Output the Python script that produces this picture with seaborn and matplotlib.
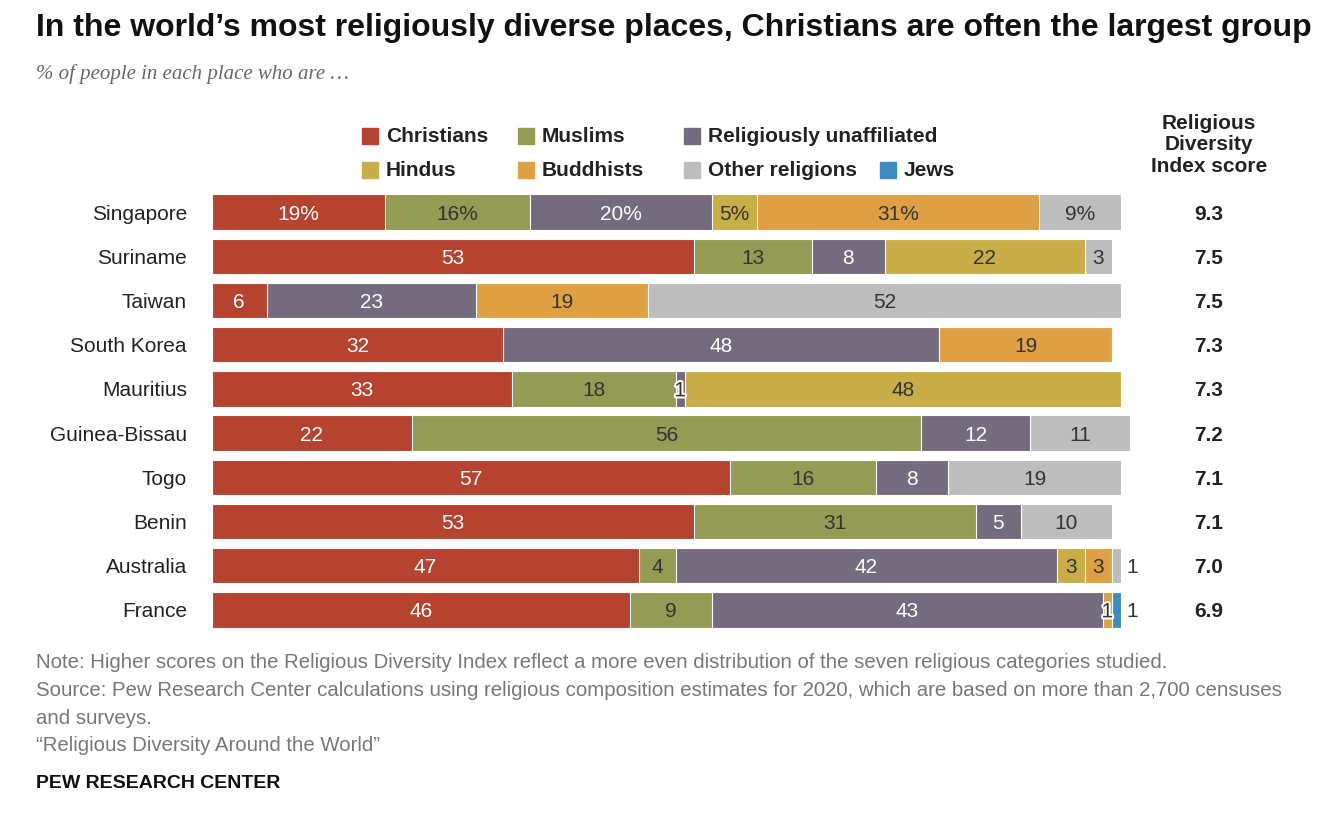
import numpy as np
import pandas as pd
import matplotlib
matplotlib.use("Agg")
import matplotlib.pyplot as plt
import matplotlib.patheffects as pe
import matplotlib.transforms as mtransforms
import seaborn as sns

sns.set_theme(style="white")
plt.rcParams['font.family'] = ['Liberation Sans Narrow', 'Liberation Sans', 'DejaVu Sans']

countries = ['Singapore', 'Suriname', 'Taiwan', 'South Korea', 'Mauritius',
             'Guinea-Bissau', 'Togo', 'Benin', 'Australia', 'France']
groups = ['Christians', 'Muslims', 'Religiously unaffiliated', 'Hindus',
          'Buddhists', 'Other religions', 'Jews']
christians = [19, 53, 6, 32, 33, 22, 57, 53, 47, 46]
muslims = [16, 13, 0, 0, 18, 56, 16, 31, 4, 9]
unaffiliated = [20, 8, 23, 48, 1, 12, 8, 5, 42, 43]
hindus = [5, 22, 0, 0, 48, 0, 0, 0, 3, 0]
buddhists = [31, 0, 19, 19, 0, 0, 0, 0, 3, 1]
other = [9, 3, 52, 0, 0, 11, 19, 10, 1, 0]
jews = [0, 0, 0, 0, 0, 0, 0, 0, 0, 1]
scores = ['9.3', '7.5', '7.5', '7.3', '7.3', '7.2', '7.1', '7.1', '7.0', '6.9']

colors = ['#B5432F', '#949B55', '#756B7E', '#C9AE48', '#DFA044', '#BDBDBD', '#3C8DBF']
text_col = ['white', '#333333', 'white', '#333333', '#333333', '#333333', 'white']

vals = np.array([christians, muslims, unaffiliated, hindus, buddhists, other, jews], dtype=float)
cum = np.cumsum(vals, axis=0)

fig = plt.figure(figsize=(13.44, 8.14), dpi=100)
ax = fig.add_axes([212 / 1344, 1 - 632 / 814, 909 * 1.02 / 1344, 442 / 814])

# stacked bars: draw cumulative totals from the top group down
for i in range(len(groups) - 1, -1, -1):
    df = pd.DataFrame({'country': countries, 'v': cum[i]})
    sns.barplot(data=df, x='v', y='country', orient='h', color=colors[i],
                width=0.8, saturation=1, ax=ax, linewidth=0.8, edgecolor='white')

ax.set_xlim(0, 102)
ax.set_ylim(9.5, -0.5)
ax.set_xlabel('')
ax.set_ylabel('')
ax.set_xticks([])
ax.tick_params(axis='y', length=0, labelsize=15, pad=18, labelcolor='#222222')
sns.despine(ax=ax, left=True, bottom=True)

score_tr = mtransforms.blended_transform_factory(mtransforms.IdentityTransform(), ax.transData)
for r in range(len(countries)):
    last = max(k for k in range(7) if vals[k, r] > 0)
    for i in range(len(groups)):
        v = vals[i, r]
        if v == 0:
            continue
        left = cum[i, r] - v
        lab = f'{int(v)}%' if r == 0 else f'{int(v)}'
        if v <= 1 and i == last:
            ax.text(cum[i, r] + 0.6, r, lab, va='center_baseline', ha='left', fontsize=15, color='#333333')
        elif v <= 1:
            ax.text(left + v / 2, r, lab, va='center_baseline', ha='center', fontsize=15, color='#333333',
                    path_effects=[pe.withStroke(linewidth=3, foreground='white')])
        else:
            ax.text(left + v / 2, r, lab, va='center_baseline', ha='center', fontsize=15, color=text_col[i])
    ax.text(1209, r, scores[r], transform=score_tr, va='center_baseline', ha='center',
            fontsize=15, fontweight='bold', color='#222222')

# legend
leg = [(362, 136, 0), (518, 136, 1), (684, 136, 2), (362, 170, 3), (518, 170, 4),
       (684, 170, 5), (880, 170, 6)]
for x, y, i in leg:
    fig.patches.append(plt.Rectangle((x / 1344, 1 - (y + 8) / 814), 16 / 1344, 16 / 814,
                                     color=colors[i], transform=fig.transFigure))
    fig.text((x + 24) / 1344, 1 - y / 814, groups[i], va='center', ha='left',
             fontsize=15, fontweight='bold', color='#222222')

fig.text(1209 / 1344, 1 - 145 / 814, 'Religious\nDiversity\nIndex score', ha='center', va='center',
         fontsize=15, fontweight='bold', color='#222222', linespacing=1.15)

fig.text(36 / 1344, 1 - 28 / 814,
         'In the world\u2019s most religiously diverse places, Christians are often the largest group',
         fontsize=23, fontweight='bold', color='#111111', va='center')
fig.text(36 / 1344, 1 - 74 / 814, '% of people in each place who are \u2026', fontsize=15,
         style='italic', family=['Liberation Serif', 'DejaVu Serif'], color='#666666', va='center')

notes = ['Note: Higher scores on the Religious Diversity Index reflect a more even distribution of the seven religious categories studied.',
         'Source: Pew Research Center calculations using religious composition estimates for 2020, which are based on more than 2,700 censuses',
         'and surveys.',
         '\u201cReligious Diversity Around the World\u201d']
for k, t in enumerate(notes):
    fig.text(36 / 1344, 1 - (663 + 27.5 * k) / 814, t, fontsize=14.7, color='#777777', va='center')
fig.text(36 / 1344, 1 - 783 / 814, 'PEW RESEARCH CENTER', fontsize=14, fontweight='bold',
         color='#111111', va='center')

fig.savefig('out.png', dpi=100)
